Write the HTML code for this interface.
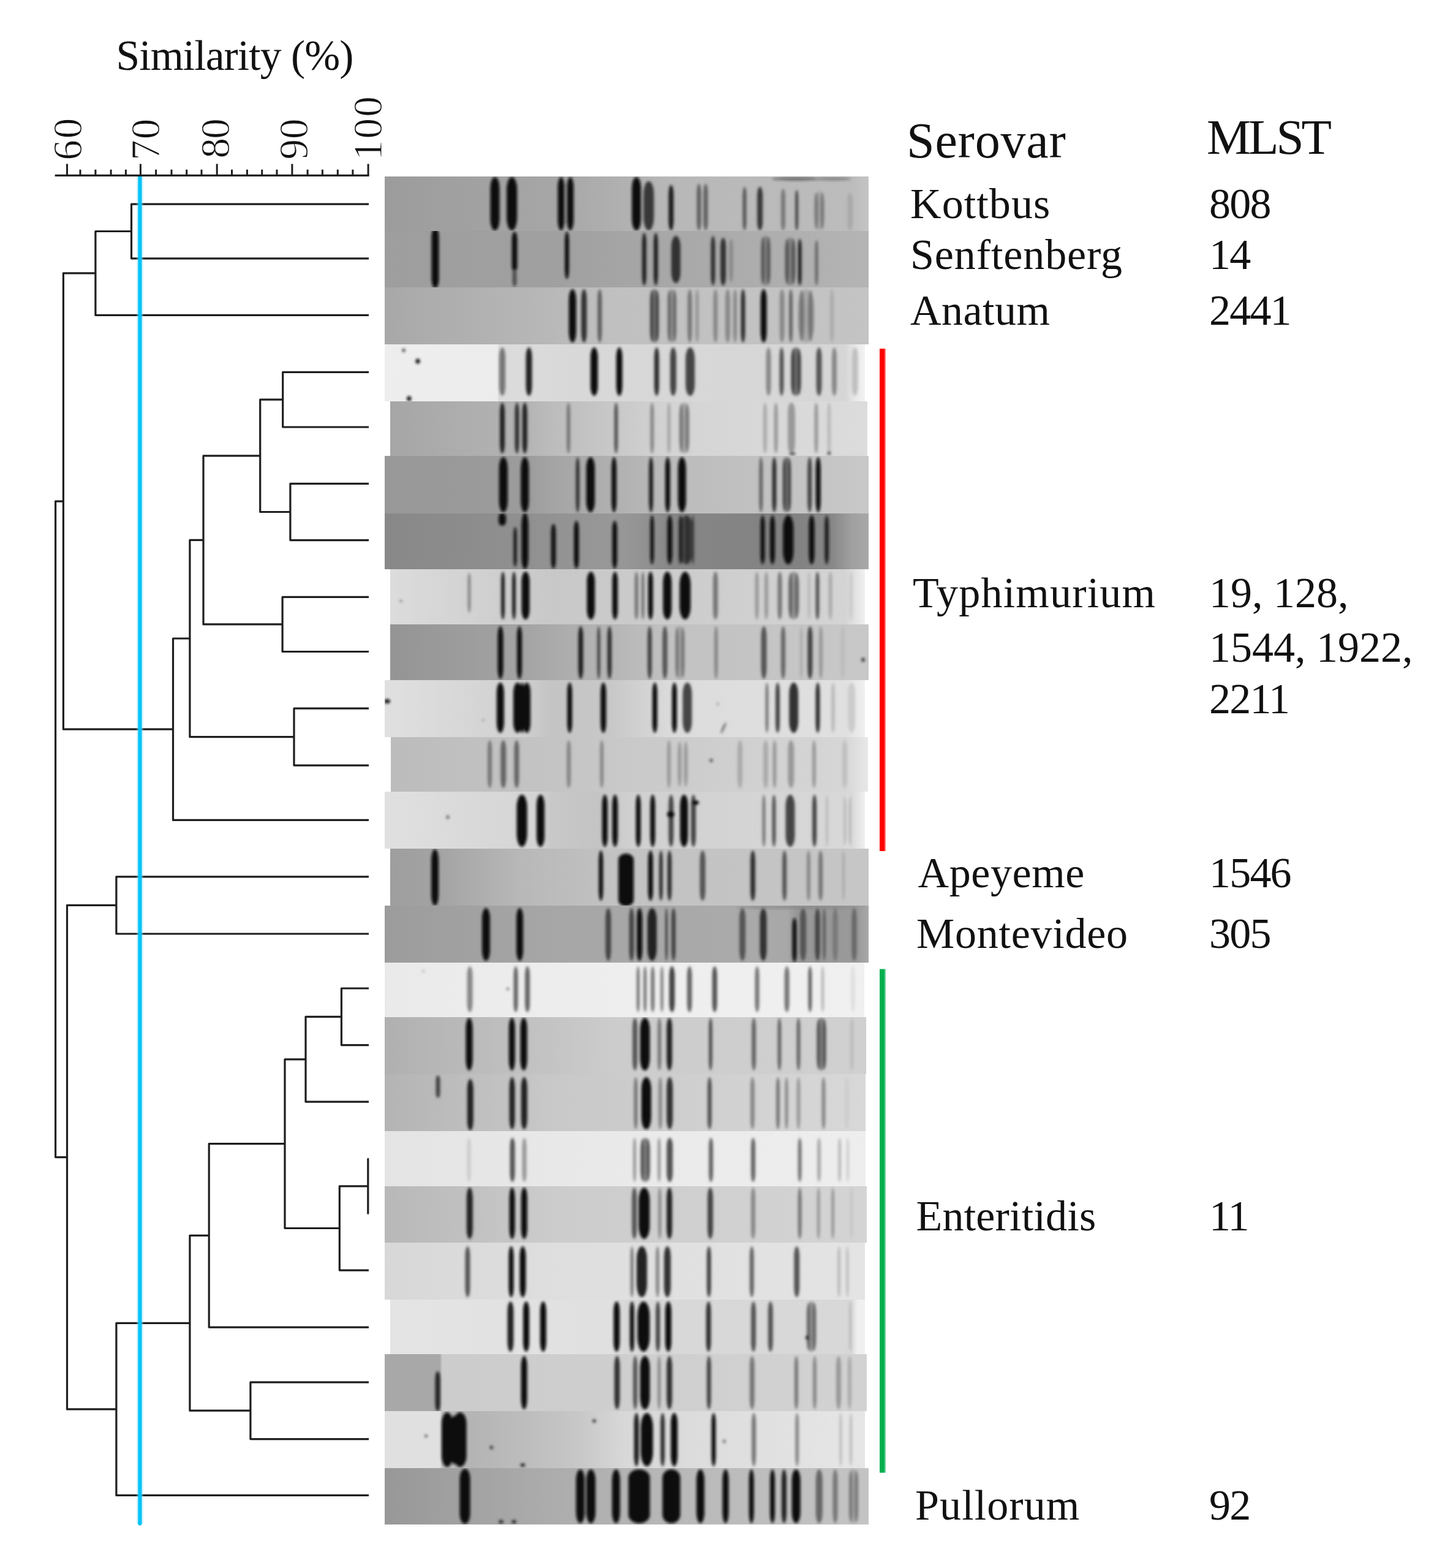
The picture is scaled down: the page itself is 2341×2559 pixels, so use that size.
<!DOCTYPE html>
<html><head><meta charset="utf-8"><title>Dendrogram</title>
<style>html,body{margin:0;padding:0;background:#fff;overflow:hidden;}svg{display:block;}</style>
</head><body>
<svg width="2341" height="2559" viewBox="0 0 2341 2559">
<defs>
<filter id="blur" x="-20%" y="-20%" width="140%" height="140%"><feGaussianBlur stdDeviation="2"/></filter>
<linearGradient id="bg0" gradientUnits="objectBoundingBox" x1="0" y1="0" x2="1" y2="0"><stop offset="0.0000" stop-color="#9c9c9c"/><stop offset="0.3443" stop-color="#a6a6a6"/><stop offset="0.5975" stop-color="#b8b8b8"/><stop offset="0.9646" stop-color="#bcbcbc"/><stop offset="1.0000" stop-color="#c4c4c4"/></linearGradient><clipPath id="c0"><rect x="628.0" y="288.0" width="790.0" height="89.0"/></clipPath><linearGradient id="bg1" gradientUnits="objectBoundingBox" x1="0" y1="0" x2="1" y2="0"><stop offset="0.0000" stop-color="#9e9e9e"/><stop offset="0.3443" stop-color="#a0a0a0"/><stop offset="0.5975" stop-color="#a8a8a8"/><stop offset="1.0000" stop-color="#b4b4b4"/></linearGradient><clipPath id="c1"><rect x="628.0" y="377.0" width="790.0" height="92.0"/></clipPath><linearGradient id="bg2" gradientUnits="objectBoundingBox" x1="0" y1="0" x2="1" y2="0"><stop offset="0.0000" stop-color="#a8a8a8"/><stop offset="0.3443" stop-color="#b8b8b8"/><stop offset="0.4709" stop-color="#c0c0c0"/><stop offset="1.0000" stop-color="#c4c4c4"/></linearGradient><clipPath id="c2"><rect x="628.0" y="469.0" width="790.0" height="93.0"/></clipPath><linearGradient id="bg3" gradientUnits="objectBoundingBox" x1="0" y1="0" x2="1" y2="0"><stop offset="0.0000" stop-color="#eeeeee"/><stop offset="0.2347" stop-color="#ececec"/><stop offset="0.2372" stop-color="#dcdcdc"/><stop offset="0.4235" stop-color="#d8d8d8"/><stop offset="0.9592" stop-color="#d6d6d6"/><stop offset="0.9821" stop-color="#eaeaea"/><stop offset="1.0000" stop-color="#f2f2f2"/></linearGradient><clipPath id="c3"><rect x="628.0" y="562.0" width="784.0" height="93.0"/></clipPath><linearGradient id="bg4" gradientUnits="objectBoundingBox" x1="0" y1="0" x2="1" y2="0"><stop offset="0.0000" stop-color="#a6a6a6"/><stop offset="0.2863" stop-color="#b4b4b4"/><stop offset="0.3376" stop-color="#bcbcbc"/><stop offset="0.5944" stop-color="#d4d4d4"/><stop offset="1.0000" stop-color="#dcdcdc"/></linearGradient><clipPath id="c4"><rect x="637.0" y="655.0" width="779.0" height="89.0"/></clipPath><linearGradient id="bg5" gradientUnits="objectBoundingBox" x1="0" y1="0" x2="1" y2="0"><stop offset="0.0000" stop-color="#989898"/><stop offset="0.2937" stop-color="#9c9c9c"/><stop offset="0.3443" stop-color="#a4a4a4"/><stop offset="0.5975" stop-color="#bcbcbc"/><stop offset="1.0000" stop-color="#c8c8c8"/></linearGradient><clipPath id="c5"><rect x="628.0" y="744.0" width="790.0" height="94.0"/></clipPath><linearGradient id="bg6" gradientUnits="objectBoundingBox" x1="0" y1="0" x2="1" y2="0"><stop offset="0.0000" stop-color="#888888"/><stop offset="0.2937" stop-color="#909090"/><stop offset="0.4709" stop-color="#989898"/><stop offset="0.5215" stop-color="#949494"/><stop offset="0.5975" stop-color="#868686"/><stop offset="0.8506" stop-color="#828282"/><stop offset="0.9266" stop-color="#888888"/><stop offset="0.9646" stop-color="#a0a0a0"/><stop offset="1.0000" stop-color="#a8a8a8"/></linearGradient><clipPath id="c6"><rect x="628.0" y="838.0" width="790.0" height="91.0"/></clipPath><linearGradient id="bg7" gradientUnits="objectBoundingBox" x1="0" y1="0" x2="1" y2="0"><stop offset="0.0000" stop-color="#dcdcdc"/><stop offset="0.3394" stop-color="#c8c8c8"/><stop offset="0.5974" stop-color="#cccccc"/><stop offset="0.9587" stop-color="#d4d4d4"/><stop offset="1.0000" stop-color="#f0f0f0"/></linearGradient><clipPath id="c7"><rect x="637.0" y="929.0" width="775.0" height="90.0"/></clipPath><linearGradient id="bg8" gradientUnits="objectBoundingBox" x1="0" y1="0" x2="1" y2="0"><stop offset="0.0000" stop-color="#949494"/><stop offset="0.2855" stop-color="#a4a4a4"/><stop offset="0.3367" stop-color="#aaaaaa"/><stop offset="0.5928" stop-color="#c2c2c2"/><stop offset="1.0000" stop-color="#c8c8c8"/></linearGradient><clipPath id="c8"><rect x="637.0" y="1019.0" width="781.0" height="91.0"/></clipPath><linearGradient id="bg9" gradientUnits="objectBoundingBox" x1="0" y1="0" x2="1" y2="0"><stop offset="0.0000" stop-color="#e0e0e0"/><stop offset="0.2832" stop-color="#d0d0d0"/><stop offset="0.3469" stop-color="#c4c4c4"/><stop offset="0.4745" stop-color="#c8c8c8"/><stop offset="0.6020" stop-color="#dcdcdc"/><stop offset="0.9592" stop-color="#e0e0e0"/><stop offset="1.0000" stop-color="#f0f0f0"/></linearGradient><clipPath id="c9"><rect x="628.0" y="1110.0" width="784.0" height="93.0"/></clipPath><linearGradient id="bg10" gradientUnits="objectBoundingBox" x1="0" y1="0" x2="1" y2="0"><stop offset="0.0000" stop-color="#bcbcbc"/><stop offset="0.3363" stop-color="#c4c4c4"/><stop offset="0.9525" stop-color="#d6d6d6"/><stop offset="1.0000" stop-color="#e8e8e8"/></linearGradient><clipPath id="c10"><rect x="638.0" y="1203.0" width="779.0" height="89.0"/></clipPath><linearGradient id="bg11" gradientUnits="objectBoundingBox" x1="0" y1="0" x2="1" y2="0"><stop offset="0.0000" stop-color="#e0e0e0"/><stop offset="0.3214" stop-color="#d4d4d4"/><stop offset="0.3469" stop-color="#c8c8c8"/><stop offset="0.4426" stop-color="#c4c4c4"/><stop offset="0.5128" stop-color="#d0d0d0"/><stop offset="0.9719" stop-color="#d8d8d8"/><stop offset="1.0000" stop-color="#f0f0f0"/></linearGradient><clipPath id="c11"><rect x="628.0" y="1292.0" width="784.0" height="93.0"/></clipPath><linearGradient id="bg12" gradientUnits="objectBoundingBox" x1="0" y1="0" x2="1" y2="0"><stop offset="0.0000" stop-color="#9e9e9e"/><stop offset="0.1063" stop-color="#a4a4a4"/><stop offset="0.2727" stop-color="#b8b8b8"/><stop offset="0.4648" stop-color="#c2c2c2"/><stop offset="1.0000" stop-color="#c6c6c6"/></linearGradient><clipPath id="c12"><rect x="637.0" y="1385.0" width="781.0" height="93.0"/></clipPath><linearGradient id="bg13" gradientUnits="objectBoundingBox" x1="0" y1="0" x2="1" y2="0"><stop offset="0.0000" stop-color="#9c9c9c"/><stop offset="0.3443" stop-color="#a6a6a6"/><stop offset="0.7241" stop-color="#aaaaaa"/><stop offset="0.8316" stop-color="#a8a8a8"/><stop offset="0.8506" stop-color="#989898"/><stop offset="0.9772" stop-color="#9a9a9a"/><stop offset="1.0000" stop-color="#a8a8a8"/></linearGradient><clipPath id="c13"><rect x="628.0" y="1478.0" width="790.0" height="93.0"/></clipPath><linearGradient id="bg14" gradientUnits="objectBoundingBox" x1="0" y1="0" x2="1" y2="0"><stop offset="0.0000" stop-color="#eaeaea"/><stop offset="0.4751" stop-color="#eeeeee"/><stop offset="1.0000" stop-color="#f0f0f0"/></linearGradient><clipPath id="c14"><rect x="628.0" y="1571.0" width="783.0" height="89.0"/></clipPath><linearGradient id="bg15" gradientUnits="objectBoundingBox" x1="0" y1="0" x2="1" y2="0"><stop offset="0.0000" stop-color="#b0b0b0"/><stop offset="0.3461" stop-color="#c4c4c4"/><stop offset="0.4733" stop-color="#cccccc"/><stop offset="1.0000" stop-color="#d0d0d0"/></linearGradient><clipPath id="c15"><rect x="628.0" y="1660.0" width="786.0" height="93.0"/></clipPath><linearGradient id="bg16" gradientUnits="objectBoundingBox" x1="0" y1="0" x2="1" y2="0"><stop offset="0.0000" stop-color="#b4b4b4"/><stop offset="0.3465" stop-color="#c8c8c8"/><stop offset="1.0000" stop-color="#d8d8d8"/></linearGradient><clipPath id="c16"><rect x="628.0" y="1753.0" width="785.0" height="93.0"/></clipPath><linearGradient id="bg17" gradientUnits="objectBoundingBox" x1="0" y1="0" x2="1" y2="0"><stop offset="0.0000" stop-color="#e4e4e4"/><stop offset="0.3465" stop-color="#e8e8e8"/><stop offset="1.0000" stop-color="#eeeeee"/></linearGradient><clipPath id="c17"><rect x="628.0" y="1846.0" width="785.0" height="90.0"/></clipPath><linearGradient id="bg18" gradientUnits="objectBoundingBox" x1="0" y1="0" x2="1" y2="0"><stop offset="0.0000" stop-color="#b8b8b8"/><stop offset="0.1677" stop-color="#c0c0c0"/><stop offset="0.3456" stop-color="#cccccc"/><stop offset="1.0000" stop-color="#d4d4d4"/></linearGradient><clipPath id="c18"><rect x="628.0" y="1936.0" width="787.0" height="92.0"/></clipPath><linearGradient id="bg19" gradientUnits="objectBoundingBox" x1="0" y1="0" x2="1" y2="0"><stop offset="0.0000" stop-color="#d8d8d8"/><stop offset="0.3469" stop-color="#dedede"/><stop offset="1.0000" stop-color="#e4e4e4"/></linearGradient><clipPath id="c19"><rect x="628.0" y="2028.0" width="784.0" height="93.0"/></clipPath><linearGradient id="bg20" gradientUnits="objectBoundingBox" x1="0" y1="0" x2="1" y2="0"><stop offset="0.0000" stop-color="#e4e4e4"/><stop offset="0.4684" stop-color="#e0e0e0"/><stop offset="0.4942" stop-color="#d8d8d8"/><stop offset="0.9716" stop-color="#d8d8d8"/><stop offset="0.9845" stop-color="#f0f0f0"/></linearGradient><clipPath id="c20"><rect x="637.0" y="2121.0" width="775.0" height="89.0"/></clipPath><linearGradient id="bg21" gradientUnits="objectBoundingBox" x1="0" y1="0" x2="1" y2="0"><stop offset="0.0000" stop-color="#a8a8a8"/><stop offset="0.1144" stop-color="#a8a8a8"/><stop offset="0.1194" stop-color="#cccccc"/><stop offset="1.0000" stop-color="#d2d2d2"/></linearGradient><clipPath id="c21"><rect x="628.0" y="2210.0" width="787.0" height="93.0"/></clipPath><linearGradient id="bg22" gradientUnits="objectBoundingBox" x1="0" y1="0" x2="1" y2="0"><stop offset="0.0000" stop-color="#e0e0e0"/><stop offset="0.1148" stop-color="#e0e0e0"/><stop offset="0.1199" stop-color="#c0c0c0"/><stop offset="0.1811" stop-color="#b4b4b4"/><stop offset="0.2832" stop-color="#bcbcbc"/><stop offset="0.4107" stop-color="#c8c8c8"/><stop offset="0.5000" stop-color="#d8d8d8"/><stop offset="1.0000" stop-color="#e6e6e6"/></linearGradient><clipPath id="c22"><rect x="628.0" y="2303.0" width="784.0" height="93.0"/></clipPath><linearGradient id="bg23" gradientUnits="objectBoundingBox" x1="0" y1="0" x2="1" y2="0"><stop offset="0.0000" stop-color="#989898"/><stop offset="0.3443" stop-color="#acacac"/><stop offset="0.5975" stop-color="#b8b8b8"/><stop offset="1.0000" stop-color="#c4c4c4"/></linearGradient><clipPath id="c23"><rect x="628.0" y="2396.0" width="790.0" height="92.0"/></clipPath>
</defs>
<rect width="2341" height="2559" fill="#fff"/>
<g id="gel"><g clip-path="url(#c0)"><rect x="628.0" y="288.0" width="790.0" height="89.0" fill="url(#bg0)"/><g filter="url(#blur)"><rect x="800.5" y="289.0" width="15.0" height="87.0" rx="7.5" ry="18.0" fill="#080808"/><rect x="827.1" y="289.0" width="17.0" height="87.0" rx="8.5" ry="20.4" fill="#080808"/><rect x="910.5" y="289.0" width="11.0" height="87.0" rx="5.5" ry="17.4" fill="#101010"/><rect x="925.5" y="289.0" width="11.0" height="87.0" rx="5.5" ry="17.4" fill="#101010"/><rect x="1031.5" y="289.0" width="15.0" height="87.0" rx="7.5" ry="18.0" fill="#080808"/><rect x="1050.5" y="296.0" width="17.0" height="80.0" rx="8.5" ry="20.4" fill="#383838"/><rect x="1091.5" y="302.0" width="8.0" height="74.0" rx="4.0" ry="14.8" fill="#1a1a1a"/><rect x="1137.5" y="300.0" width="7.0" height="76.0" rx="3.5" ry="15.2" fill="#606060"/><rect x="1148.5" y="300.0" width="7.0" height="76.0" rx="3.5" ry="15.2" fill="#606060"/><rect x="1212.5" y="305.0" width="6.0" height="71.0" rx="3.0" ry="14.2" fill="#585858"/><rect x="1236.1" y="305.0" width="9.0" height="71.0" rx="4.5" ry="14.2" fill="#383838"/><rect x="1275.0" y="308.0" width="7.0" height="68.0" rx="3.5" ry="13.6" fill="#787878"/><rect x="1298.2" y="310.0" width="5.0" height="66.0" rx="2.5" ry="13.2" fill="#484848"/><rect x="1329.0" y="312.0" width="17.0" height="64.0" rx="8.5" ry="19.2" fill="#a8a8a8"/><rect x="1329.9" y="314.0" width="5.7" height="60.0" rx="2.9" ry="19.2" fill="#767676"/><rect x="1339.4" y="314.0" width="5.7" height="60.0" rx="2.9" ry="19.2" fill="#767676"/><rect x="1383.7" y="315.0" width="8.0" height="61.0" rx="4.0" ry="12.2" fill="#a8a8a8"/><ellipse cx="1300.0" cy="292.0" rx="40" ry="3" fill="#707070"/><ellipse cx="1360.0" cy="292.0" rx="30" ry="2.5" fill="#808080"/></g></g><g clip-path="url(#c1)"><rect x="628.0" y="377.0" width="790.0" height="92.0" fill="url(#bg1)"/><g filter="url(#blur)"><rect x="704.5" y="372.0" width="12.0" height="98.0" rx="6.0" ry="14.0" fill="#080808"/><rect x="835.5" y="378.0" width="9.0" height="67.0" rx="4.5" ry="13.4" fill="#101010"/><rect x="836.5" y="440.0" width="7.0" height="28.0" rx="3.5" ry="8.4" fill="#505050"/><rect x="922.0" y="378.0" width="7.0" height="77.0" rx="3.5" ry="15.4" fill="#101010"/><rect x="1048.2" y="380.0" width="7.0" height="86.0" rx="3.5" ry="17.2" fill="#222222"/><rect x="1067.1" y="380.0" width="7.0" height="86.0" rx="3.5" ry="17.2" fill="#222222"/><rect x="1095.9" y="385.0" width="15.0" height="77.0" rx="7.5" ry="18.0" fill="#303030"/><rect x="1160.5" y="385.0" width="7.0" height="81.0" rx="3.5" ry="16.2" fill="#333333"/><rect x="1176.1" y="388.0" width="9.0" height="78.0" rx="4.5" ry="15.6" fill="#333333"/><rect x="1190.5" y="390.0" width="6.0" height="70.0" rx="3.0" ry="14.0" fill="#888888"/><rect x="1242.0" y="385.0" width="16.0" height="81.0" rx="8.0" ry="18.0" fill="#868686"/><rect x="1242.8" y="387.0" width="5.4" height="77.0" rx="2.7" ry="18.0" fill="#545454"/><rect x="1251.8" y="387.0" width="5.4" height="77.0" rx="2.7" ry="18.0" fill="#545454"/><rect x="1281.0" y="388.0" width="18.0" height="78.0" rx="9.0" ry="20.4" fill="#868686"/><rect x="1282.0" y="390.0" width="6.0" height="74.0" rx="3.0" ry="20.4" fill="#545454"/><rect x="1292.0" y="390.0" width="6.0" height="74.0" rx="3.0" ry="20.4" fill="#545454"/><rect x="1302.6" y="390.0" width="6.0" height="76.0" rx="3.0" ry="15.2" fill="#222222"/><rect x="1330.5" y="392.0" width="5.0" height="74.0" rx="2.5" ry="14.8" fill="#666666"/></g></g><g clip-path="url(#c2)"><rect x="628.0" y="469.0" width="790.0" height="93.0" fill="url(#bg2)"/><g filter="url(#blur)"><rect x="928.6" y="472.0" width="12.0" height="87.0" rx="6.0" ry="17.4" fill="#080808"/><rect x="948.9" y="472.0" width="9.0" height="87.0" rx="4.5" ry="17.4" fill="#303030"/><rect x="975.5" y="472.0" width="7.0" height="87.0" rx="3.5" ry="17.4" fill="#606060"/><rect x="1060.9" y="472.0" width="15.0" height="87.0" rx="7.5" ry="17.4" fill="#757575"/><rect x="1061.6" y="474.0" width="5.1" height="83.0" rx="2.5" ry="17.4" fill="#434343"/><rect x="1070.1" y="474.0" width="5.1" height="83.0" rx="2.5" ry="17.4" fill="#434343"/><rect x="1089.5" y="472.0" width="15.0" height="87.0" rx="7.5" ry="17.4" fill="#979797"/><rect x="1090.2" y="474.0" width="5.1" height="83.0" rx="2.5" ry="17.4" fill="#656565"/><rect x="1098.7" y="474.0" width="5.1" height="83.0" rx="2.5" ry="17.4" fill="#656565"/><rect x="1122.5" y="472.0" width="7.0" height="87.0" rx="3.5" ry="17.4" fill="#777777"/><rect x="1135.0" y="472.0" width="6.0" height="87.0" rx="3.0" ry="17.4" fill="#999999"/><rect x="1164.5" y="472.0" width="7.0" height="87.0" rx="3.5" ry="17.4" fill="#888888"/><rect x="1184.0" y="472.0" width="8.0" height="87.0" rx="4.0" ry="17.4" fill="#888888"/><rect x="1197.0" y="472.0" width="6.0" height="87.0" rx="3.0" ry="17.4" fill="#888888"/><rect x="1209.5" y="472.0" width="7.0" height="87.0" rx="3.5" ry="17.4" fill="#333333"/><rect x="1241.7" y="472.0" width="10.0" height="87.0" rx="5.0" ry="17.4" fill="#101010"/><rect x="1272.7" y="472.0" width="8.0" height="87.0" rx="4.0" ry="17.4" fill="#888888"/><rect x="1288.0" y="472.0" width="6.0" height="87.0" rx="3.0" ry="17.4" fill="#666666"/><rect x="1302.5" y="472.0" width="27.0" height="87.0" rx="13.5" ry="30.4" fill="#a8a8a8"/><rect x="1304.4" y="474.0" width="8.7" height="83.0" rx="4.3" ry="30.4" fill="#767676"/><rect x="1318.9" y="474.0" width="8.7" height="83.0" rx="4.3" ry="30.4" fill="#767676"/><rect x="1355.0" y="472.0" width="6.0" height="87.0" rx="3.0" ry="17.4" fill="#aaaaaa"/></g></g><g clip-path="url(#c3)"><rect x="628.0" y="562.0" width="784.0" height="93.0" fill="url(#bg3)"/><g filter="url(#blur)"><rect x="815.0" y="567.0" width="10.0" height="79.0" rx="5.0" ry="15.8" fill="#777777"/><rect x="858.5" y="567.0" width="10.0" height="79.0" rx="5.0" ry="15.8" fill="#222222"/><rect x="964.0" y="567.0" width="12.0" height="79.0" rx="6.0" ry="15.8" fill="#080808"/><rect x="1006.0" y="567.0" width="10.0" height="79.0" rx="5.0" ry="15.8" fill="#101010"/><rect x="1068.0" y="567.0" width="8.0" height="79.0" rx="4.0" ry="15.8" fill="#333333"/><rect x="1094.0" y="567.0" width="10.0" height="79.0" rx="5.0" ry="15.8" fill="#444444"/><rect x="1119.2" y="567.0" width="15.0" height="79.0" rx="7.5" ry="18.0" fill="#444444"/><rect x="1250.6" y="567.0" width="8.0" height="79.0" rx="4.0" ry="15.8" fill="#888888"/><rect x="1272.5" y="567.0" width="7.0" height="79.0" rx="3.5" ry="15.8" fill="#555555"/><rect x="1291.0" y="567.0" width="17.0" height="79.0" rx="8.5" ry="19.2" fill="#757575"/><rect x="1291.9" y="569.0" width="5.7" height="75.0" rx="2.9" ry="19.2" fill="#434343"/><rect x="1301.4" y="569.0" width="5.7" height="75.0" rx="2.9" ry="19.2" fill="#434343"/><rect x="1332.5" y="567.0" width="9.0" height="79.0" rx="4.5" ry="15.8" fill="#555555"/><rect x="1358.0" y="567.0" width="8.0" height="79.0" rx="4.0" ry="15.8" fill="#888888"/><rect x="1390.7" y="567.0" width="10.0" height="79.0" rx="5.0" ry="15.8" fill="#c0c0c0"/><ellipse cx="659.0" cy="571.7" rx="2.5" ry="3" fill="#444444"/><ellipse cx="682.0" cy="589.5" rx="3.5" ry="4" fill="#101010"/><ellipse cx="667.8" cy="650.6" rx="3.5" ry="4" fill="#101010"/></g></g><g clip-path="url(#c4)"><rect x="637.0" y="655.0" width="779.0" height="89.0" fill="url(#bg4)"/><g filter="url(#blur)"><rect x="816.0" y="657.0" width="8.0" height="83.0" rx="4.0" ry="16.6" fill="#222222"/><rect x="840.5" y="657.0" width="7.0" height="83.0" rx="3.5" ry="16.6" fill="#333333"/><rect x="852.7" y="657.0" width="8.0" height="83.0" rx="4.0" ry="16.6" fill="#222222"/><rect x="925.0" y="657.0" width="6.0" height="83.0" rx="3.0" ry="16.6" fill="#777777"/><rect x="1002.7" y="657.0" width="6.0" height="83.0" rx="3.0" ry="16.6" fill="#555555"/><rect x="1061.5" y="657.0" width="6.0" height="83.0" rx="3.0" ry="16.6" fill="#888888"/><rect x="1089.0" y="657.0" width="6.0" height="83.0" rx="3.0" ry="16.6" fill="#aaaaaa"/><rect x="1108.5" y="657.0" width="17.0" height="83.0" rx="8.5" ry="19.2" fill="#a8a8a8"/><rect x="1109.4" y="659.0" width="5.7" height="79.0" rx="2.9" ry="19.2" fill="#767676"/><rect x="1118.9" y="659.0" width="5.7" height="79.0" rx="2.9" ry="19.2" fill="#767676"/><rect x="1246.0" y="657.0" width="6.0" height="83.0" rx="3.0" ry="16.6" fill="#aaaaaa"/><rect x="1263.7" y="657.0" width="6.0" height="83.0" rx="3.0" ry="16.6" fill="#999999"/><rect x="1286.0" y="657.0" width="12.0" height="83.0" rx="6.0" ry="16.6" fill="#999999"/><rect x="1329.5" y="657.0" width="6.0" height="83.0" rx="3.0" ry="16.6" fill="#999999"/><rect x="1350.5" y="657.0" width="6.0" height="83.0" rx="3.0" ry="16.6" fill="#bbbbbb"/><ellipse cx="1293.5" cy="740.6" rx="5" ry="2.5" fill="#555555"/><ellipse cx="1353.5" cy="739.5" rx="3" ry="3" fill="#555555"/></g></g><g clip-path="url(#c5)"><rect x="628.0" y="744.0" width="790.0" height="94.0" fill="url(#bg5)"/><g filter="url(#blur)"><rect x="814.7" y="746.0" width="14.0" height="90.0" rx="7.0" ry="18.0" fill="#080808"/><rect x="850.3" y="746.0" width="13.0" height="90.0" rx="6.5" ry="18.0" fill="#080808"/><rect x="940.0" y="746.0" width="6.0" height="90.0" rx="3.0" ry="18.0" fill="#333333"/><rect x="957.0" y="746.0" width="14.0" height="90.0" rx="7.0" ry="18.0" fill="#080808"/><rect x="998.4" y="746.0" width="8.0" height="90.0" rx="4.0" ry="18.0" fill="#080808"/><rect x="1059.3" y="746.0" width="7.0" height="90.0" rx="3.5" ry="18.0" fill="#222222"/><rect x="1086.0" y="746.0" width="8.0" height="90.0" rx="4.0" ry="18.0" fill="#080808"/><rect x="1106.8" y="746.0" width="13.0" height="90.0" rx="6.5" ry="18.0" fill="#080808"/><rect x="1239.3" y="746.0" width="6.0" height="90.0" rx="3.0" ry="18.0" fill="#666666"/><rect x="1260.5" y="746.0" width="7.0" height="90.0" rx="3.5" ry="18.0" fill="#333333"/><rect x="1277.5" y="746.0" width="14.0" height="90.0" rx="7.0" ry="18.0" fill="#757575"/><rect x="1278.1" y="748.0" width="4.8" height="86.0" rx="2.4" ry="18.0" fill="#434343"/><rect x="1286.1" y="748.0" width="4.8" height="86.0" rx="2.4" ry="18.0" fill="#434343"/><rect x="1318.3" y="746.0" width="7.0" height="90.0" rx="3.5" ry="18.0" fill="#444444"/><rect x="1331.7" y="746.0" width="8.0" height="90.0" rx="4.0" ry="18.0" fill="#080808"/></g></g><g clip-path="url(#c6)"><rect x="628.0" y="838.0" width="790.0" height="91.0" fill="url(#bg6)"/><g filter="url(#blur)"><rect x="814.0" y="837.0" width="12.0" height="21.0" rx="6.0" ry="7.3" fill="#080808"/><rect x="851.5" y="837.0" width="11.0" height="92.0" rx="5.5" ry="18.4" fill="#080808"/><rect x="838.0" y="860.0" width="6.0" height="65.0" rx="3.0" ry="13.0" fill="#222222"/><rect x="899.5" y="855.0" width="8.0" height="73.0" rx="4.0" ry="14.6" fill="#151515"/><rect x="937.0" y="850.0" width="8.0" height="78.0" rx="4.0" ry="15.6" fill="#111111"/><rect x="999.5" y="850.0" width="8.0" height="78.0" rx="4.0" ry="15.6" fill="#111111"/><rect x="1061.5" y="841.0" width="6.0" height="80.0" rx="3.0" ry="16.0" fill="#111111"/><rect x="1089.4" y="841.0" width="8.0" height="80.0" rx="4.0" ry="16.0" fill="#111111"/><rect x="1108.0" y="841.0" width="24.0" height="80.0" rx="12.0" ry="28.0" fill="#404040"/><rect x="1108.0" y="841.0" width="6.0" height="80.0" rx="3.0" ry="16.0" fill="#222222"/><rect x="1120.0" y="841.0" width="6.0" height="80.0" rx="3.0" ry="16.0" fill="#2a2a2a"/><rect x="1129.0" y="841.0" width="4.0" height="80.0" rx="2.0" ry="16.0" fill="#383838"/><rect x="1241.5" y="841.0" width="7.0" height="80.0" rx="3.5" ry="16.0" fill="#111111"/><rect x="1257.0" y="841.0" width="8.0" height="80.0" rx="4.0" ry="16.0" fill="#111111"/><rect x="1278.3" y="841.0" width="17.0" height="80.0" rx="8.5" ry="20.4" fill="#080808"/><rect x="1320.5" y="841.0" width="9.0" height="80.0" rx="4.5" ry="16.0" fill="#080808"/><rect x="1346.1" y="841.0" width="7.0" height="80.0" rx="3.5" ry="16.0" fill="#222222"/></g></g><g clip-path="url(#c7)"><rect x="637.0" y="929.0" width="775.0" height="90.0" fill="url(#bg7)"/><g filter="url(#blur)"><rect x="763.5" y="935.0" width="5.0" height="65.0" rx="2.5" ry="13.0" fill="#888888"/><rect x="818.0" y="933.0" width="6.0" height="78.0" rx="3.0" ry="15.6" fill="#222222"/><rect x="836.0" y="933.0" width="6.0" height="78.0" rx="3.0" ry="15.6" fill="#222222"/><rect x="851.5" y="933.0" width="13.0" height="78.0" rx="6.5" ry="15.6" fill="#080808"/><rect x="958.1" y="933.0" width="13.0" height="78.0" rx="6.5" ry="15.6" fill="#080808"/><rect x="999.5" y="933.0" width="9.0" height="78.0" rx="4.5" ry="15.6" fill="#111111"/><rect x="1036.0" y="933.0" width="6.0" height="78.0" rx="3.0" ry="15.6" fill="#777777"/><rect x="1047.0" y="933.0" width="5.0" height="78.0" rx="2.5" ry="15.6" fill="#777777"/><rect x="1058.0" y="933.0" width="8.0" height="78.0" rx="4.0" ry="15.6" fill="#080808"/><rect x="1082.4" y="933.0" width="14.0" height="78.0" rx="7.0" ry="16.8" fill="#080808"/><rect x="1109.4" y="933.0" width="18.0" height="78.0" rx="9.0" ry="21.6" fill="#080808"/><rect x="1164.0" y="933.0" width="8.0" height="78.0" rx="4.0" ry="15.6" fill="#777777"/><rect x="1232.6" y="933.0" width="6.0" height="78.0" rx="3.0" ry="15.6" fill="#999999"/><rect x="1248.0" y="933.0" width="6.0" height="78.0" rx="3.0" ry="15.6" fill="#999999"/><rect x="1269.5" y="933.0" width="7.0" height="78.0" rx="3.5" ry="15.6" fill="#777777"/><rect x="1286.7" y="933.0" width="18.0" height="78.0" rx="9.0" ry="20.4" fill="#979797"/><rect x="1287.7" y="935.0" width="6.0" height="74.0" rx="3.0" ry="20.4" fill="#656565"/><rect x="1297.7" y="935.0" width="6.0" height="74.0" rx="3.0" ry="20.4" fill="#656565"/><rect x="1318.2" y="933.0" width="5.0" height="78.0" rx="2.5" ry="15.6" fill="#bbbbbb"/><rect x="1331.5" y="933.0" width="6.0" height="78.0" rx="3.0" ry="15.6" fill="#555555"/><rect x="1352.6" y="933.0" width="6.0" height="78.0" rx="3.0" ry="15.6" fill="#aaaaaa"/><rect x="1386.0" y="933.0" width="6.0" height="78.0" rx="3.0" ry="15.6" fill="#cccccc"/><ellipse cx="654.5" cy="981.0" rx="2.5" ry="2.5" fill="#999999"/></g></g><g clip-path="url(#c8)"><rect x="637.0" y="1019.0" width="781.0" height="91.0" fill="url(#bg8)"/><g filter="url(#blur)"><rect x="812.5" y="1022.0" width="9.0" height="86.0" rx="4.5" ry="17.2" fill="#080808"/><rect x="844.0" y="1022.0" width="8.0" height="86.0" rx="4.0" ry="17.2" fill="#080808"/><rect x="944.0" y="1022.0" width="8.0" height="86.0" rx="4.0" ry="17.2" fill="#222222"/><rect x="974.9" y="1022.0" width="5.0" height="86.0" rx="2.5" ry="17.2" fill="#444444"/><rect x="991.5" y="1022.0" width="7.0" height="86.0" rx="3.5" ry="17.2" fill="#333333"/><rect x="1057.1" y="1022.0" width="7.0" height="86.0" rx="3.5" ry="17.2" fill="#444444"/><rect x="1081.5" y="1022.0" width="8.0" height="86.0" rx="4.0" ry="17.2" fill="#555555"/><rect x="1102.0" y="1022.0" width="16.0" height="86.0" rx="8.0" ry="18.0" fill="#a8a8a8"/><rect x="1102.8" y="1024.0" width="5.4" height="82.0" rx="2.7" ry="18.0" fill="#767676"/><rect x="1111.8" y="1024.0" width="5.4" height="82.0" rx="2.7" ry="18.0" fill="#767676"/><rect x="1166.0" y="1022.0" width="6.0" height="86.0" rx="3.0" ry="17.2" fill="#888888"/><rect x="1242.5" y="1022.0" width="9.0" height="86.0" rx="4.5" ry="17.2" fill="#555555"/><rect x="1275.0" y="1022.0" width="7.0" height="86.0" rx="3.5" ry="17.2" fill="#666666"/><rect x="1306.0" y="1022.0" width="4.0" height="86.0" rx="2.0" ry="17.2" fill="#aaaaaa"/><rect x="1318.4" y="1022.0" width="8.0" height="86.0" rx="4.0" ry="17.2" fill="#444444"/><rect x="1337.0" y="1022.0" width="6.0" height="86.0" rx="3.0" ry="17.2" fill="#999999"/><rect x="1372.6" y="1022.0" width="6.0" height="86.0" rx="3.0" ry="17.2" fill="#bbbbbb"/><ellipse cx="1409.0" cy="1076.8" rx="3" ry="3.5" fill="#444444"/></g></g><g clip-path="url(#c9)"><rect x="628.0" y="1110.0" width="784.0" height="93.0" fill="url(#bg9)"/><g filter="url(#blur)"><rect x="810.8" y="1114.0" width="12.0" height="82.0" rx="6.0" ry="16.4" fill="#080808"/><rect x="838.0" y="1114.0" width="14.0" height="82.0" rx="7.0" ry="16.8" fill="#080808"/><rect x="854.0" y="1114.0" width="12.0" height="82.0" rx="6.0" ry="16.4" fill="#080808"/><rect x="849.0" y="1114.0" width="7.0" height="82.0" rx="3.5" ry="16.4" fill="#101010"/><rect x="926.0" y="1114.0" width="8.0" height="82.0" rx="4.0" ry="16.4" fill="#080808"/><rect x="980.5" y="1114.0" width="9.0" height="82.0" rx="4.5" ry="16.4" fill="#080808"/><rect x="1065.0" y="1114.0" width="8.0" height="82.0" rx="4.0" ry="16.4" fill="#080808"/><rect x="1097.0" y="1114.0" width="8.0" height="82.0" rx="4.0" ry="16.4" fill="#080808"/><rect x="1114.5" y="1114.0" width="15.0" height="82.0" rx="7.5" ry="18.0" fill="#444444"/><rect x="1249.5" y="1114.0" width="5.0" height="82.0" rx="2.5" ry="16.4" fill="#777777"/><rect x="1266.0" y="1114.0" width="7.0" height="82.0" rx="3.5" ry="16.4" fill="#444444"/><rect x="1288.2" y="1114.0" width="15.0" height="82.0" rx="7.5" ry="18.0" fill="#333333"/><rect x="1331.5" y="1114.0" width="7.0" height="82.0" rx="3.5" ry="16.4" fill="#333333"/><rect x="1357.0" y="1114.0" width="6.0" height="82.0" rx="3.0" ry="16.4" fill="#bbbbbb"/><rect x="1384.0" y="1114.0" width="12.0" height="82.0" rx="6.0" ry="16.4" fill="#cccccc"/><ellipse cx="632.0" cy="1144.5" rx="5" ry="3.5" fill="#101010"/><ellipse cx="789.0" cy="1175.6" rx="2" ry="2" fill="#999999"/><ellipse cx="1181.0" cy="1188.0" rx="2" ry="10" fill="#777777" transform="rotate(25 1181.0 1188.0)"/><ellipse cx="1172.0" cy="1149.0" rx="1.5" ry="3" fill="#999999"/></g></g><g clip-path="url(#c10)"><rect x="638.0" y="1203.0" width="779.0" height="89.0" fill="url(#bg10)"/><g filter="url(#blur)"><rect x="796.0" y="1208.0" width="7.0" height="78.0" rx="3.5" ry="15.6" fill="#777777"/><rect x="817.2" y="1208.0" width="9.0" height="78.0" rx="4.5" ry="15.6" fill="#666666"/><rect x="839.4" y="1208.0" width="8.0" height="78.0" rx="4.0" ry="15.6" fill="#666666"/><rect x="925.0" y="1208.0" width="7.0" height="78.0" rx="3.5" ry="15.6" fill="#888888"/><rect x="979.4" y="1208.0" width="6.0" height="78.0" rx="3.0" ry="15.6" fill="#888888"/><rect x="1089.0" y="1208.0" width="6.0" height="78.0" rx="3.0" ry="15.6" fill="#999999"/><rect x="1105.5" y="1208.0" width="18.0" height="78.0" rx="9.0" ry="20.4" fill="#cacaca"/><rect x="1106.5" y="1210.0" width="6.0" height="74.0" rx="3.0" ry="20.4" fill="#989898"/><rect x="1116.5" y="1210.0" width="6.0" height="74.0" rx="3.0" ry="20.4" fill="#989898"/><rect x="1204.0" y="1208.0" width="8.0" height="78.0" rx="4.0" ry="15.6" fill="#aaaaaa"/><rect x="1246.0" y="1208.0" width="8.0" height="78.0" rx="4.0" ry="15.6" fill="#aaaaaa"/><rect x="1261.5" y="1208.0" width="6.0" height="78.0" rx="3.0" ry="15.6" fill="#999999"/><rect x="1286.3" y="1208.0" width="10.0" height="78.0" rx="5.0" ry="15.6" fill="#999999"/><rect x="1326.0" y="1208.0" width="6.0" height="78.0" rx="3.0" ry="15.6" fill="#999999"/><rect x="1375.0" y="1208.0" width="8.0" height="78.0" rx="4.0" ry="15.6" fill="#c0c0c0"/><ellipse cx="1161.0" cy="1241.0" rx="3" ry="3" fill="#666666"/></g></g><g clip-path="url(#c11)"><rect x="628.0" y="1292.0" width="784.0" height="93.0" fill="url(#bg11)"/><g filter="url(#blur)"><rect x="843.5" y="1297.0" width="17.0" height="85.0" rx="8.5" ry="20.4" fill="#080808"/><rect x="875.9" y="1297.0" width="13.0" height="85.0" rx="6.5" ry="17.0" fill="#080808"/><rect x="982.9" y="1297.0" width="9.0" height="85.0" rx="4.5" ry="17.0" fill="#080808"/><rect x="999.5" y="1297.0" width="9.0" height="85.0" rx="4.5" ry="17.0" fill="#080808"/><rect x="1038.0" y="1297.0" width="8.0" height="85.0" rx="4.0" ry="17.0" fill="#080808"/><rect x="1061.5" y="1297.0" width="8.0" height="85.0" rx="4.0" ry="17.0" fill="#080808"/><rect x="1091.5" y="1297.0" width="8.0" height="85.0" rx="4.0" ry="17.0" fill="#444444"/><rect x="1110.2" y="1297.0" width="13.0" height="85.0" rx="6.5" ry="17.0" fill="#080808"/><rect x="1128.0" y="1297.0" width="8.0" height="85.0" rx="4.0" ry="17.0" fill="#444444"/><rect x="1244.5" y="1297.0" width="5.0" height="85.0" rx="2.5" ry="17.0" fill="#777777"/><rect x="1260.5" y="1297.0" width="6.0" height="85.0" rx="3.0" ry="17.0" fill="#555555"/><rect x="1282.5" y="1297.0" width="15.0" height="85.0" rx="7.5" ry="18.0" fill="#444444"/><rect x="1326.1" y="1297.0" width="7.0" height="85.0" rx="3.5" ry="17.0" fill="#444444"/><rect x="1348.0" y="1297.0" width="4.0" height="85.0" rx="2.0" ry="17.0" fill="#bbbbbb"/><rect x="1376.5" y="1297.0" width="14.0" height="85.0" rx="7.0" ry="17.0" fill="#e0e0e0"/><rect x="1377.1" y="1299.0" width="4.8" height="81.0" rx="2.4" ry="17.0" fill="#bababa"/><rect x="1385.1" y="1299.0" width="4.8" height="81.0" rx="2.4" ry="17.0" fill="#bababa"/><ellipse cx="1095.0" cy="1329.0" rx="6" ry="6" fill="#080808"/><ellipse cx="1135.0" cy="1310.0" rx="6" ry="4" fill="#101010"/><ellipse cx="731.0" cy="1333.4" rx="2.5" ry="3" fill="#666666"/></g></g><g clip-path="url(#c12)"><rect x="637.0" y="1385.0" width="781.0" height="93.0" fill="url(#bg12)"/><g filter="url(#blur)"><rect x="704.0" y="1386.0" width="12.0" height="92.0" rx="6.0" ry="18.4" fill="#080808"/><rect x="977.5" y="1388.0" width="7.0" height="82.0" rx="3.5" ry="16.4" fill="#080808"/><rect x="1009.5" y="1393.0" width="25.0" height="86.0" rx="12.5" ry="10.0" fill="#080808"/><rect x="1058.0" y="1388.0" width="8.0" height="82.0" rx="4.0" ry="16.4" fill="#080808"/><rect x="1076.0" y="1388.0" width="6.0" height="82.0" rx="3.0" ry="16.4" fill="#333333"/><rect x="1089.5" y="1388.0" width="7.0" height="82.0" rx="3.5" ry="16.4" fill="#333333"/><rect x="1142.5" y="1388.0" width="9.0" height="82.0" rx="4.5" ry="16.4" fill="#555555"/><rect x="1225.0" y="1388.0" width="8.0" height="82.0" rx="4.0" ry="16.4" fill="#333333"/><rect x="1277.2" y="1388.0" width="7.0" height="82.0" rx="3.5" ry="16.4" fill="#555555"/><rect x="1317.0" y="1388.0" width="6.0" height="82.0" rx="3.0" ry="16.4" fill="#888888"/><rect x="1336.1" y="1388.0" width="7.0" height="82.0" rx="3.5" ry="16.4" fill="#777777"/><rect x="1375.0" y="1388.0" width="4.0" height="82.0" rx="2.0" ry="16.4" fill="#aaaaaa"/></g></g><g clip-path="url(#c13)"><rect x="628.0" y="1478.0" width="790.0" height="93.0" fill="url(#bg13)"/><g filter="url(#blur)"><rect x="786.9" y="1482.0" width="13.0" height="86.0" rx="6.5" ry="17.2" fill="#080808"/><rect x="843.0" y="1482.0" width="11.0" height="86.0" rx="5.5" ry="17.2" fill="#080808"/><rect x="988.5" y="1482.0" width="9.0" height="86.0" rx="4.5" ry="17.2" fill="#444444"/><rect x="1027.0" y="1482.0" width="8.0" height="86.0" rx="4.0" ry="17.2" fill="#444444"/><rect x="1039.5" y="1482.0" width="9.0" height="86.0" rx="4.5" ry="17.2" fill="#080808"/><rect x="1057.0" y="1482.0" width="15.0" height="86.0" rx="7.5" ry="18.0" fill="#222222"/><rect x="1086.0" y="1482.0" width="4.0" height="86.0" rx="2.0" ry="17.2" fill="#444444"/><rect x="1096.0" y="1482.0" width="7.0" height="86.0" rx="3.5" ry="17.2" fill="#444444"/><rect x="1207.0" y="1482.0" width="10.0" height="86.0" rx="5.0" ry="17.2" fill="#555555"/><rect x="1240.5" y="1482.0" width="11.0" height="86.0" rx="5.5" ry="17.2" fill="#333333"/><rect x="1293.5" y="1498.0" width="7.0" height="72.0" rx="3.5" ry="14.4" fill="#080808"/><rect x="1306.0" y="1482.0" width="10.0" height="86.0" rx="5.0" ry="17.2" fill="#555555"/><rect x="1330.6" y="1482.0" width="8.0" height="86.0" rx="4.0" ry="17.2" fill="#444444"/><rect x="1343.6" y="1482.0" width="4.0" height="86.0" rx="2.0" ry="17.2" fill="#555555"/><rect x="1359.5" y="1482.0" width="8.0" height="86.0" rx="4.0" ry="17.2" fill="#777777"/><rect x="1390.5" y="1482.0" width="8.0" height="86.0" rx="4.0" ry="17.2" fill="#666666"/><ellipse cx="1300.0" cy="1481.0" rx="100" ry="2" fill="#888888"/></g></g><g clip-path="url(#c14)"><rect x="628.0" y="1571.0" width="783.0" height="89.0" fill="url(#bg14)"/><g filter="url(#blur)"><rect x="762.5" y="1577.0" width="9.0" height="75.0" rx="4.5" ry="15.0" fill="#888888"/><rect x="838.5" y="1577.0" width="7.0" height="75.0" rx="3.5" ry="15.0" fill="#666666"/><rect x="857.0" y="1577.0" width="8.0" height="75.0" rx="4.0" ry="15.0" fill="#666666"/><rect x="1039.2" y="1577.0" width="5.0" height="75.0" rx="2.5" ry="15.0" fill="#777777"/><rect x="1050.5" y="1577.0" width="5.0" height="75.0" rx="2.5" ry="15.0" fill="#777777"/><rect x="1062.5" y="1577.0" width="6.0" height="75.0" rx="3.0" ry="15.0" fill="#777777"/><rect x="1078.1" y="1577.0" width="5.0" height="75.0" rx="2.5" ry="15.0" fill="#888888"/><rect x="1092.5" y="1577.0" width="9.0" height="75.0" rx="4.5" ry="15.0" fill="#444444"/><rect x="1121.6" y="1577.0" width="8.0" height="75.0" rx="4.0" ry="15.0" fill="#666666"/><rect x="1162.7" y="1577.0" width="8.0" height="75.0" rx="4.0" ry="15.0" fill="#555555"/><rect x="1232.5" y="1577.0" width="7.0" height="75.0" rx="3.5" ry="15.0" fill="#777777"/><rect x="1280.6" y="1577.0" width="8.0" height="75.0" rx="4.0" ry="15.0" fill="#777777"/><rect x="1319.4" y="1577.0" width="6.0" height="75.0" rx="3.0" ry="15.0" fill="#666666"/><rect x="1340.5" y="1577.0" width="5.0" height="75.0" rx="2.5" ry="15.0" fill="#bbbbbb"/><rect x="1389.4" y="1577.0" width="6.0" height="75.0" rx="3.0" ry="15.0" fill="#dddddd"/><ellipse cx="829.0" cy="1614.0" rx="2.5" ry="2.5" fill="#888888"/><ellipse cx="691.0" cy="1585.0" rx="2" ry="2" fill="#aaaaaa"/></g></g><g clip-path="url(#c15)"><rect x="628.0" y="1660.0" width="786.0" height="93.0" fill="url(#bg15)"/><g filter="url(#blur)"><rect x="760.5" y="1661.0" width="11.0" height="86.0" rx="5.5" ry="17.2" fill="#080808"/><rect x="830.7" y="1661.0" width="10.0" height="86.0" rx="5.0" ry="17.2" fill="#080808"/><rect x="849.5" y="1661.0" width="11.0" height="86.0" rx="5.5" ry="17.2" fill="#080808"/><rect x="1032.6" y="1661.0" width="8.0" height="86.0" rx="4.0" ry="17.2" fill="#555555"/><rect x="1044.8" y="1661.0" width="16.0" height="86.0" rx="8.0" ry="19.2" fill="#080808"/><rect x="1073.5" y="1661.0" width="6.0" height="86.0" rx="3.0" ry="17.2" fill="#777777"/><rect x="1088.3" y="1661.0" width="9.0" height="86.0" rx="4.5" ry="17.2" fill="#222222"/><rect x="1157.0" y="1661.0" width="6.0" height="86.0" rx="3.0" ry="17.2" fill="#555555"/><rect x="1227.1" y="1661.0" width="7.0" height="86.0" rx="3.5" ry="17.2" fill="#666666"/><rect x="1269.4" y="1661.0" width="6.0" height="86.0" rx="3.0" ry="17.2" fill="#666666"/><rect x="1300.5" y="1661.0" width="6.0" height="86.0" rx="3.0" ry="17.2" fill="#666666"/><rect x="1333.0" y="1661.0" width="16.0" height="86.0" rx="8.0" ry="18.0" fill="#868686"/><rect x="1333.8" y="1663.0" width="5.4" height="82.0" rx="2.7" ry="18.0" fill="#545454"/><rect x="1342.8" y="1663.0" width="5.4" height="82.0" rx="2.7" ry="18.0" fill="#545454"/><rect x="1388.2" y="1661.0" width="5.0" height="86.0" rx="2.5" ry="17.2" fill="#bbbbbb"/></g></g><g clip-path="url(#c16)"><rect x="628.0" y="1753.0" width="785.0" height="93.0" fill="url(#bg16)"/><g filter="url(#blur)"><rect x="711.5" y="1755.0" width="7.0" height="37.0" rx="3.5" ry="8.4" fill="#444444"/><rect x="762.7" y="1761.0" width="10.0" height="84.0" rx="5.0" ry="16.8" fill="#222222"/><rect x="831.5" y="1758.0" width="9.0" height="85.0" rx="4.5" ry="17.0" fill="#222222"/><rect x="850.7" y="1758.0" width="10.0" height="85.0" rx="5.0" ry="17.0" fill="#222222"/><rect x="1034.8" y="1758.0" width="6.0" height="85.0" rx="3.0" ry="17.0" fill="#777777"/><rect x="1047.0" y="1758.0" width="16.0" height="85.0" rx="8.0" ry="19.2" fill="#111111"/><rect x="1074.8" y="1758.0" width="6.0" height="85.0" rx="3.0" ry="17.0" fill="#888888"/><rect x="1088.3" y="1758.0" width="10.0" height="85.0" rx="5.0" ry="17.0" fill="#333333"/><rect x="1154.9" y="1758.0" width="7.0" height="85.0" rx="3.5" ry="17.0" fill="#555555"/><rect x="1224.9" y="1758.0" width="7.0" height="85.0" rx="3.5" ry="17.0" fill="#888888"/><rect x="1267.0" y="1758.0" width="6.0" height="85.0" rx="3.0" ry="17.0" fill="#777777"/><rect x="1281.5" y="1758.0" width="5.0" height="85.0" rx="2.5" ry="17.0" fill="#888888"/><rect x="1300.5" y="1758.0" width="6.0" height="85.0" rx="3.0" ry="17.0" fill="#999999"/><rect x="1341.5" y="1758.0" width="6.0" height="85.0" rx="3.0" ry="17.0" fill="#888888"/><rect x="1379.4" y="1758.0" width="6.0" height="85.0" rx="3.0" ry="17.0" fill="#cccccc"/></g></g><g clip-path="url(#c17)"><rect x="628.0" y="1846.0" width="785.0" height="90.0" fill="url(#bg17)"/><g filter="url(#blur)"><rect x="762.6" y="1857.0" width="6.0" height="72.0" rx="3.0" ry="14.4" fill="#cccccc"/><rect x="832.5" y="1857.0" width="8.0" height="72.0" rx="4.0" ry="14.4" fill="#555555"/><rect x="852.5" y="1857.0" width="7.0" height="72.0" rx="3.5" ry="14.4" fill="#999999"/><rect x="1033.5" y="1857.0" width="5.0" height="72.0" rx="2.5" ry="14.4" fill="#999999"/><rect x="1045.4" y="1857.0" width="16.0" height="72.0" rx="8.0" ry="18.0" fill="#868686"/><rect x="1046.2" y="1859.0" width="5.4" height="68.0" rx="2.7" ry="18.0" fill="#545454"/><rect x="1055.2" y="1859.0" width="5.4" height="68.0" rx="2.7" ry="18.0" fill="#545454"/><rect x="1073.5" y="1857.0" width="5.0" height="72.0" rx="2.5" ry="14.4" fill="#999999"/><rect x="1088.3" y="1857.0" width="10.0" height="72.0" rx="5.0" ry="14.4" fill="#555555"/><rect x="1157.1" y="1857.0" width="7.0" height="72.0" rx="3.5" ry="14.4" fill="#666666"/><rect x="1226.0" y="1857.0" width="7.0" height="72.0" rx="3.5" ry="14.4" fill="#666666"/><rect x="1302.6" y="1857.0" width="6.0" height="72.0" rx="3.0" ry="14.4" fill="#777777"/><rect x="1334.0" y="1857.0" width="6.0" height="72.0" rx="3.0" ry="14.4" fill="#aaaaaa"/><rect x="1368.2" y="1857.0" width="5.0" height="72.0" rx="2.5" ry="14.4" fill="#bbbbbb"/><rect x="1382.0" y="1857.0" width="4.0" height="72.0" rx="2.0" ry="14.4" fill="#cccccc"/></g></g><g clip-path="url(#c18)"><rect x="628.0" y="1936.0" width="787.0" height="92.0" fill="url(#bg18)"/><g filter="url(#blur)"><rect x="761.7" y="1938.0" width="10.0" height="84.0" rx="5.0" ry="16.8" fill="#222222"/><rect x="831.5" y="1938.0" width="9.0" height="84.0" rx="4.5" ry="16.8" fill="#080808"/><rect x="850.7" y="1938.0" width="10.0" height="84.0" rx="5.0" ry="16.8" fill="#080808"/><rect x="1031.6" y="1938.0" width="8.0" height="84.0" rx="4.0" ry="16.8" fill="#555555"/><rect x="1042.6" y="1938.0" width="18.0" height="84.0" rx="9.0" ry="21.6" fill="#080808"/><rect x="1074.5" y="1938.0" width="5.0" height="84.0" rx="2.5" ry="16.8" fill="#888888"/><rect x="1088.3" y="1938.0" width="9.0" height="84.0" rx="4.5" ry="16.8" fill="#222222"/><rect x="1155.0" y="1938.0" width="9.0" height="84.0" rx="4.5" ry="16.8" fill="#444444"/><rect x="1226.0" y="1938.0" width="7.0" height="84.0" rx="3.5" ry="16.8" fill="#888888"/><rect x="1302.6" y="1938.0" width="6.0" height="84.0" rx="3.0" ry="16.8" fill="#777777"/><rect x="1333.7" y="1938.0" width="5.0" height="84.0" rx="2.5" ry="16.8" fill="#999999"/><rect x="1357.1" y="1938.0" width="5.0" height="84.0" rx="2.5" ry="16.8" fill="#999999"/><rect x="1388.0" y="1938.0" width="4.0" height="84.0" rx="2.0" ry="16.8" fill="#c4c4c4"/></g></g><g clip-path="url(#c19)"><rect x="628.0" y="2028.0" width="784.0" height="93.0" fill="url(#bg19)"/><g filter="url(#blur)"><rect x="759.4" y="2034.0" width="8.0" height="83.0" rx="4.0" ry="16.6" fill="#555555"/><rect x="830.5" y="2034.0" width="8.0" height="83.0" rx="4.0" ry="16.6" fill="#080808"/><rect x="848.4" y="2034.0" width="10.0" height="83.0" rx="5.0" ry="16.6" fill="#111111"/><rect x="1029.2" y="2034.0" width="5.0" height="83.0" rx="2.5" ry="16.6" fill="#777777"/><rect x="1039.3" y="2034.0" width="17.0" height="83.0" rx="8.5" ry="20.4" fill="#222222"/><rect x="1070.4" y="2034.0" width="6.0" height="83.0" rx="3.0" ry="16.6" fill="#888888"/><rect x="1084.0" y="2034.0" width="11.0" height="83.0" rx="5.5" ry="16.6" fill="#333333"/><rect x="1153.8" y="2034.0" width="7.0" height="83.0" rx="3.5" ry="16.6" fill="#444444"/><rect x="1223.8" y="2034.0" width="7.0" height="83.0" rx="3.5" ry="16.6" fill="#666666"/><rect x="1296.2" y="2034.0" width="9.0" height="83.0" rx="4.5" ry="16.6" fill="#555555"/><rect x="1367.1" y="2034.0" width="5.0" height="83.0" rx="2.5" ry="16.6" fill="#bbbbbb"/><rect x="1381.4" y="2034.0" width="4.0" height="83.0" rx="2.0" ry="16.6" fill="#bbbbbb"/></g></g><g clip-path="url(#c20)"><rect x="637.0" y="2121.0" width="775.0" height="89.0" fill="url(#bg20)"/><g filter="url(#blur)"><rect x="828.4" y="2124.0" width="10.0" height="82.0" rx="5.0" ry="16.4" fill="#222222"/><rect x="854.0" y="2124.0" width="10.0" height="82.0" rx="5.0" ry="16.4" fill="#080808"/><rect x="881.7" y="2124.0" width="10.0" height="82.0" rx="5.0" ry="16.4" fill="#080808"/><rect x="1001.7" y="2124.0" width="10.0" height="82.0" rx="5.0" ry="16.4" fill="#080808"/><rect x="1028.2" y="2124.0" width="7.0" height="82.0" rx="3.5" ry="16.4" fill="#080808"/><rect x="1040.6" y="2124.0" width="20.0" height="82.0" rx="10.0" ry="24.0" fill="#080808"/><rect x="1070.5" y="2124.0" width="7.0" height="82.0" rx="3.5" ry="16.4" fill="#444444"/><rect x="1086.0" y="2124.0" width="10.0" height="82.0" rx="5.0" ry="16.4" fill="#080808"/><rect x="1152.7" y="2124.0" width="8.0" height="82.0" rx="4.0" ry="16.4" fill="#333333"/><rect x="1226.0" y="2124.0" width="8.0" height="82.0" rx="4.0" ry="16.4" fill="#555555"/><rect x="1253.8" y="2124.0" width="8.0" height="82.0" rx="4.0" ry="16.4" fill="#555555"/><rect x="1316.6" y="2124.0" width="16.0" height="82.0" rx="8.0" ry="18.0" fill="#979797"/><rect x="1317.4" y="2126.0" width="5.4" height="78.0" rx="2.7" ry="18.0" fill="#656565"/><rect x="1326.4" y="2126.0" width="5.4" height="78.0" rx="2.7" ry="18.0" fill="#656565"/><rect x="1386.0" y="2124.0" width="4.0" height="82.0" rx="2.0" ry="16.4" fill="#bbbbbb"/><ellipse cx="1318.0" cy="2183.0" rx="3" ry="3.5" fill="#222222"/></g></g><g clip-path="url(#c21)"><rect x="628.0" y="2210.0" width="787.0" height="93.0" fill="url(#bg21)"/><g filter="url(#blur)"><rect x="710.5" y="2238.0" width="8.0" height="65.0" rx="4.0" ry="13.0" fill="#222222"/><rect x="850.6" y="2213.0" width="10.0" height="87.0" rx="5.0" ry="17.4" fill="#111111"/><rect x="1002.9" y="2213.0" width="9.0" height="87.0" rx="4.5" ry="17.4" fill="#333333"/><rect x="1033.5" y="2213.0" width="7.0" height="87.0" rx="3.5" ry="17.4" fill="#555555"/><rect x="1044.8" y="2213.0" width="16.0" height="87.0" rx="8.0" ry="19.2" fill="#080808"/><rect x="1073.5" y="2213.0" width="5.0" height="87.0" rx="2.5" ry="17.4" fill="#888888"/><rect x="1088.3" y="2213.0" width="9.0" height="87.0" rx="4.5" ry="17.4" fill="#333333"/><rect x="1153.8" y="2213.0" width="7.0" height="87.0" rx="3.5" ry="17.4" fill="#444444"/><rect x="1223.8" y="2213.0" width="8.0" height="87.0" rx="4.0" ry="17.4" fill="#777777"/><rect x="1297.0" y="2213.0" width="6.0" height="87.0" rx="3.0" ry="17.4" fill="#777777"/><rect x="1327.0" y="2213.0" width="6.0" height="87.0" rx="3.0" ry="17.4" fill="#888888"/><rect x="1365.0" y="2213.0" width="8.0" height="87.0" rx="4.0" ry="17.4" fill="#999999"/><rect x="1384.0" y="2213.0" width="6.0" height="87.0" rx="3.0" ry="17.4" fill="#aaaaaa"/></g></g><g clip-path="url(#c22)"><rect x="628.0" y="2303.0" width="784.0" height="93.0" fill="url(#bg22)"/><g filter="url(#blur)"><rect x="721.0" y="2305.0" width="18.0" height="89.0" rx="9.0" ry="18.0" fill="#080808"/><rect x="740.5" y="2305.0" width="21.0" height="89.0" rx="10.5" ry="18.0" fill="#080808"/><rect x="737.5" y="2310.0" width="7.0" height="80.0" rx="3.5" ry="10.0" fill="#101010"/><rect x="1035.0" y="2306.0" width="8.0" height="87.0" rx="4.0" ry="17.4" fill="#222222"/><rect x="1046.0" y="2306.0" width="20.0" height="87.0" rx="10.0" ry="24.0" fill="#080808"/><rect x="1078.2" y="2306.0" width="7.0" height="87.0" rx="3.5" ry="17.4" fill="#333333"/><rect x="1095.1" y="2306.0" width="11.0" height="87.0" rx="5.5" ry="17.4" fill="#080808"/><rect x="1161.5" y="2306.0" width="7.0" height="87.0" rx="3.5" ry="17.4" fill="#111111"/><rect x="1227.1" y="2306.0" width="7.0" height="87.0" rx="3.5" ry="17.4" fill="#777777"/><rect x="1298.2" y="2306.0" width="6.0" height="87.0" rx="3.0" ry="17.4" fill="#888888"/><rect x="1370.4" y="2306.0" width="4.0" height="87.0" rx="2.0" ry="17.4" fill="#bbbbbb"/><rect x="1387.0" y="2306.0" width="4.0" height="87.0" rx="2.0" ry="17.4" fill="#bbbbbb"/><ellipse cx="695.6" cy="2343.4" rx="2.5" ry="2.5" fill="#666666"/><ellipse cx="802.3" cy="2362.3" rx="3" ry="3" fill="#444444"/><ellipse cx="853.4" cy="2391.0" rx="4" ry="3" fill="#333333"/><ellipse cx="970.0" cy="2319.0" rx="3" ry="3" fill="#444444"/><ellipse cx="1182.3" cy="2352.3" rx="2.5" ry="3" fill="#777777"/></g></g><g clip-path="url(#c23)"><rect x="628.0" y="2396.0" width="790.0" height="92.0" fill="url(#bg23)"/><g filter="url(#blur)"><rect x="750.5" y="2397.0" width="17.0" height="90.0" rx="8.5" ry="16.0" fill="#080808"/><rect x="940.4" y="2398.0" width="14.0" height="88.0" rx="7.0" ry="17.6" fill="#080808"/><rect x="957.1" y="2398.0" width="15.0" height="88.0" rx="7.5" ry="18.0" fill="#080808"/><rect x="999.2" y="2398.0" width="13.0" height="88.0" rx="6.5" ry="17.6" fill="#080808"/><rect x="1025.9" y="2398.0" width="35.0" height="88.0" rx="17.5" ry="14.0" fill="#080808"/><rect x="1081.5" y="2398.0" width="29.0" height="88.0" rx="14.5" ry="14.0" fill="#080808"/><rect x="1136.9" y="2398.0" width="13.0" height="88.0" rx="6.5" ry="17.6" fill="#080808"/><rect x="1179.5" y="2398.0" width="10.0" height="88.0" rx="5.0" ry="17.6" fill="#080808"/><rect x="1222.7" y="2398.0" width="8.0" height="88.0" rx="4.0" ry="17.6" fill="#080808"/><rect x="1257.0" y="2398.0" width="8.0" height="88.0" rx="4.0" ry="17.6" fill="#111111"/><rect x="1276.0" y="2398.0" width="8.0" height="88.0" rx="4.0" ry="17.6" fill="#222222"/><rect x="1292.6" y="2398.0" width="14.0" height="88.0" rx="7.0" ry="17.6" fill="#080808"/><rect x="1331.8" y="2398.0" width="11.0" height="88.0" rx="5.5" ry="17.6" fill="#666666"/><rect x="1359.5" y="2398.0" width="8.0" height="88.0" rx="4.0" ry="17.6" fill="#777777"/><rect x="1385.5" y="2398.0" width="16.0" height="88.0" rx="8.0" ry="18.0" fill="#a8a8a8"/><rect x="1386.3" y="2400.0" width="5.4" height="84.0" rx="2.7" ry="18.0" fill="#767676"/><rect x="1395.3" y="2400.0" width="5.4" height="84.0" rx="2.7" ry="18.0" fill="#767676"/><ellipse cx="818.0" cy="2483.5" rx="4" ry="3" fill="#333333"/><ellipse cx="839.0" cy="2483.5" rx="4" ry="3" fill="#333333"/></g></g></g>
<g id="axis"><line x1="89.7" y1="286.4" x2="602.6" y2="286.4" stroke="#1e1e1e" stroke-width="3.2"/><line x1="109.5" y1="267.5" x2="109.5" y2="286.4" stroke="#1e1e1e" stroke-width="3"/><line x1="131.0" y1="276.8" x2="131.0" y2="286.4" stroke="#1e1e1e" stroke-width="3"/><line x1="155.9" y1="276.8" x2="155.9" y2="286.4" stroke="#1e1e1e" stroke-width="3"/><line x1="181.1" y1="276.8" x2="181.1" y2="286.4" stroke="#1e1e1e" stroke-width="3"/><line x1="205.4" y1="276.8" x2="205.4" y2="286.4" stroke="#1e1e1e" stroke-width="3"/><line x1="229.4" y1="267.5" x2="229.4" y2="286.4" stroke="#1e1e1e" stroke-width="3"/><line x1="254.6" y1="276.8" x2="254.6" y2="286.4" stroke="#1e1e1e" stroke-width="3"/><line x1="280.0" y1="276.8" x2="280.0" y2="286.4" stroke="#1e1e1e" stroke-width="3"/><line x1="304.7" y1="276.8" x2="304.7" y2="286.4" stroke="#1e1e1e" stroke-width="3"/><line x1="329.0" y1="276.8" x2="329.0" y2="286.4" stroke="#1e1e1e" stroke-width="3"/><line x1="354.2" y1="267.5" x2="354.2" y2="286.4" stroke="#1e1e1e" stroke-width="3"/><line x1="378.5" y1="276.8" x2="378.5" y2="286.4" stroke="#1e1e1e" stroke-width="3"/><line x1="403.4" y1="276.8" x2="403.4" y2="286.4" stroke="#1e1e1e" stroke-width="3"/><line x1="427.7" y1="276.8" x2="427.7" y2="286.4" stroke="#1e1e1e" stroke-width="3"/><line x1="452.0" y1="276.8" x2="452.0" y2="286.4" stroke="#1e1e1e" stroke-width="3"/><line x1="476.9" y1="267.5" x2="476.9" y2="286.4" stroke="#1e1e1e" stroke-width="3"/><line x1="502.1" y1="276.8" x2="502.1" y2="286.4" stroke="#1e1e1e" stroke-width="3"/><line x1="526.4" y1="276.8" x2="526.4" y2="286.4" stroke="#1e1e1e" stroke-width="3"/><line x1="551.3" y1="276.8" x2="551.3" y2="286.4" stroke="#1e1e1e" stroke-width="3"/><line x1="575.9" y1="276.8" x2="575.9" y2="286.4" stroke="#1e1e1e" stroke-width="3"/><line x1="601.1" y1="267.5" x2="601.1" y2="286.4" stroke="#1e1e1e" stroke-width="3"/></g>
<g id="axlabels" font-family="Liberation Serif, Times New Roman, serif" font-size="67" fill="#111" stroke="#fff" stroke-width="1.1"><text transform="translate(133.3,261.8) rotate(-90)" letter-spacing="2.0">60</text><text transform="translate(259.7,261.8) rotate(-90)" letter-spacing="1.1">70</text><text transform="translate(374.2,258.5) rotate(-90)" letter-spacing="-1.8">80</text><text transform="translate(501.8,260.5) rotate(-90)" letter-spacing="0">90</text><text transform="translate(623.4,262.0) rotate(-90)" letter-spacing="2.1">100</text></g>
<path d="M602.0 333.1H214.5V421.8H602.0M214.5 377.5H155.9V514.4H602.0M602.0 607.4H461.7V697.0H602.0M602.0 789.3H473.9V881.6H602.0M461.7 652.2H424.7V835.5H473.9M602.0 974.3H461.1V1063.5H602.0M424.7 743.8H332.0V1018.9H461.1M602.0 1156.2H480.0V1249.1H602.0M332.0 881.4H309.9V1202.7H480.0M309.9 1042.0H282.5V1338.4H602.0M155.9 445.9H103.4V1190.2H282.5M602.0 1430.8H189.9V1524.0H602.0M602.0 1613.0H557.4V1705.6H602.0M557.4 1659.3H499.0V1798.2H602.0M602.0 1891.5H600.8V1980.2H602.0M600.8 1935.8H554.3V2073.1H602.0M499.0 1728.8H465.0V2004.5H554.3M465.0 1866.6H341.2V2166.1H602.0M602.0 2255.9H408.9V2348.6H602.0M341.2 2016.4H309.9V2302.2H408.9M309.9 2159.3H189.9V2440.4H602.0M189.9 1477.4H109.5V2299.9H189.9M103.4 818.1H90.6V1888.6H109.5" fill="none" stroke="#1e1e1e" stroke-width="3.2" stroke-linejoin="round"/>
<line x1="228.4" y1="288" x2="228.4" y2="2487" stroke="#7fdcf8" stroke-opacity="0.35" stroke-width="11"/><line x1="228.4" y1="288" x2="228.4" y2="2486.5" stroke="#06c3f6" stroke-width="6.2"/><circle cx="228.4" cy="2486.5" r="3.1" fill="#06c3f6"/>
<rect x="1436" y="569" width="8.4" height="820" fill="#ff0000"/><rect x="1444.4" y="569" width="1.6" height="820" fill="#ff7070"/>
<rect x="1436" y="1581.5" width="8.4" height="822" fill="#00b050"/><rect x="1444.4" y="1581.5" width="1.6" height="822" fill="#66d096"/>
<g id="text" font-family="Liberation Serif, Times New Roman, serif" fill="#111"><text x="189.5" y="114" font-size="69.5" letter-spacing="-0.9">Similarity (%)</text><text x="1480" y="257" font-size="82" letter-spacing="0.8">Serovar</text><text x="1970" y="251" font-size="81" letter-spacing="-4">MLST</text><text x="1486" y="355.7" font-size="70" letter-spacing="1.1">Kottbus</text><text x="1974" y="355.7" font-size="70" letter-spacing="-1.8">808</text><text x="1486" y="438.5" font-size="70" letter-spacing="0.9">Senftenberg</text><text x="1974" y="438.5" font-size="70" letter-spacing="-1.8">14</text><text x="1486" y="530" font-size="70" letter-spacing="0.5">Anatum</text><text x="1974" y="530" font-size="70" letter-spacing="-1.8">2441</text><text x="1490" y="991.0" font-size="70" letter-spacing="1.2">Typhimurium</text><text x="1974" y="991.0" font-size="70" >19, 128,</text><text x="1498.5" y="1447.5" font-size="70" letter-spacing="0.6">Apeyeme</text><text x="1974" y="1447.5" font-size="70" letter-spacing="-1.8">1546</text><text x="1496" y="1547" font-size="70" letter-spacing="0.75">Montevideo</text><text x="1974" y="1547" font-size="70" letter-spacing="-1.8">305</text><text x="1495.5" y="2008" font-size="70" letter-spacing="0.2">Enteritidis</text><text x="1974" y="2008" font-size="70" letter-spacing="-1.8">11</text><text x="1494" y="2480" font-size="70" letter-spacing="1.1">Pullorum</text><text x="1974" y="2480" font-size="70" letter-spacing="-1.8">92</text><text x="1974" y="1080" font-size="70" >1544, 1922,</text><text x="1974" y="1163.6" font-size="70" letter-spacing="-1.8">2211</text></g>
</svg>
</body></html>
